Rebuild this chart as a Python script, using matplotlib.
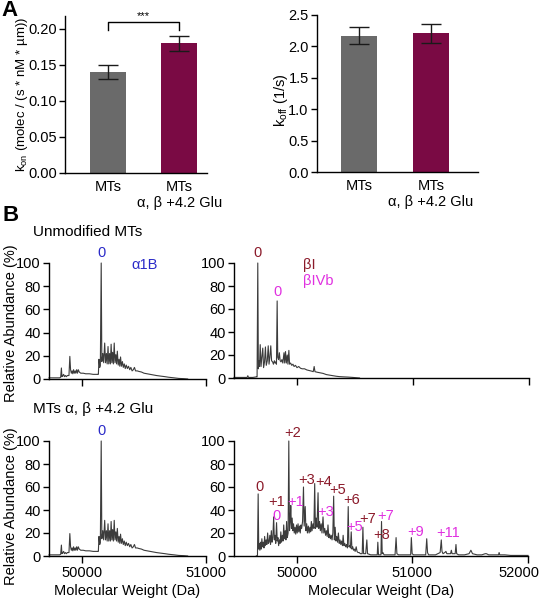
import matplotlib
matplotlib.use('Agg')
import matplotlib.pyplot as plt
from matplotlib.transforms import ScaledTranslation

plt.rcParams['font.family'] = ['Liberation Sans', 'DejaVu Sans']
plt.rcParams['mathtext.fontset'] = 'custom'
plt.rcParams['mathtext.rm'] = 'Liberation Sans'
plt.rcParams['mathtext.it'] = 'Liberation Sans:italic'
plt.rcParams['axes.linewidth'] = 1.0
plt.rcParams['font.size'] = 10.5

# ---- panel A data ----
groups = ['MTs', 'MTs\nα, β +4.2 Glu']
kon_mean = [0.14, 0.18]
kon_err = [0.01, 0.01]
koff_mean = [2.17, 2.21]
koff_err = [0.135, 0.15]
bar_colors = ['#6a6a6a', '#7a0a44']

# ---- panel B data (mass in Da, relative abundance in %) ----
# alpha1B spectrum, same in both rows
alpha_mass = [49734, 49760, 49790, 49820, 49828, 49834, 49838, 49845, 49852, 49858,
              49866, 49874, 49882, 49895, 49902, 49908, 49914, 49920, 49926, 49932,
              49938, 49945, 49950, 49957, 49963, 49970, 49978, 49990, 50010, 50030,
              50060, 50090, 50110, 50128, 50132, 50137, 50143, 50148, 50155, 50160,
              50168, 50175, 50183, 50190, 50197, 50203, 50210, 50216, 50223, 50229,
              50235, 50241, 50247, 50253, 50260, 50266, 50273, 50279, 50285, 50292,
              50299, 50305, 50311, 50318, 50326, 50333, 50341, 50349, 50357, 50366,
              50375, 50385, 50394, 50404, 50414, 50423, 50432, 50445, 50460, 50480,
              50500, 50525, 50550, 50575, 50600, 50634, 50670, 50700, 50743, 50780,
              50820, 50852]
alpha_abund = [1, 1, 1, 1, 1.5, 9.5, 2, 3, 4, 2,
               3, 2, 3, 3, 19.5, 8, 5, 7, 4.5, 8,
               5, 7, 5, 8, 5, 8, 6, 5, 5, 4.5,
               4.5, 4, 4, 4, 4, 17, 10, 12, 100, 15,
               22, 14, 31, 14, 22, 13, 28, 13, 22, 13,
               30, 14, 23, 13, 31, 14, 21, 13, 24, 12,
               17, 11, 19, 11, 15, 10, 13, 9, 12, 9,
               11, 8, 10, 7, 8, 10, 7, 7, 6.5, 6,
               5, 4.5, 4, 3.5, 3, 2.5, 2, 1.5, 1, 0.5,
               0.3, 0]

# beta spectrum, unmodified MTs
beta0_mass = [49457, 49500, 49560, 49570, 49576, 49582, 49620, 49650, 49656, 49662,
              49667, 49672, 49677, 49683, 49690, 49697, 49705, 49712, 49720, 49728,
              49735, 49744, 49752, 49759, 49766, 49774, 49781, 49790, 49797, 49805,
              49812, 49818, 49823, 49829, 49834, 49841, 49848, 49855, 49862, 49870,
              49878, 49888, 49894, 49901, 49908, 49916, 49922, 49930, 49936, 49945,
              49955, 49965, 49975, 49987, 50000, 50015, 50030, 50045, 50065, 50085,
              50105, 50125, 50140, 50148, 50155, 50175, 50200, 50225, 50252, 50280,
              50310, 50340, 50366, 50400, 50440, 50481, 50539]
beta0_abund = [0.5, 0.5, 0.5, 0.5, 2, 0.5, 0.5, 1, 1, 100,
               8, 15, 10, 29, 10, 18, 26, 9, 14, 27,
               11, 15, 28, 12, 18, 28, 15, 14, 12, 15,
               13, 14, 12, 67, 18, 16, 22, 15, 14, 16,
               13, 22, 13, 23, 13, 20, 12, 24, 12, 13,
               11, 12, 10, 11, 9, 10, 8.5, 8, 8, 7,
               6.5, 6, 5.5, 10, 5.5, 5, 4.5, 4, 3, 2.5,
               2, 1.5, 1.2, 1, 0.8, 0.5, 0]

# beta spectrum, MTs alpha, beta +4.2 Glu
beta_mod_mass = [49650, 49660, 49666, 49671, 49676, 49681, 49687, 49692, 49698, 49704,
                 49710, 49716, 49722, 49728, 49735, 49741, 49748, 49754, 49760, 49767,
                 49773, 49780, 49786, 49793, 49800, 49806, 49812, 49818, 49825, 49831,
                 49837, 49843, 49850, 49856, 49862, 49868, 49875, 49881, 49887, 49893,
                 49900, 49906, 49912, 49918, 49925, 49931, 49937, 49943, 49948, 49954,
                 49960, 49966, 49972, 49978, 49985, 49991, 49998, 50004, 50011, 50017,
                 50024, 50030, 50036, 50042, 50050, 50058, 50064, 50073, 50079, 50086,
                 50092, 50100, 50107, 50114, 50120, 50126, 50132, 50140, 50148, 50155,
                 50161, 50168, 50175, 50184, 50190, 50197, 50204, 50211, 50218, 50227,
                 50234, 50242, 50249, 50256, 50263, 50270, 50277, 50284, 50291, 50298,
                 50305, 50312, 50319, 50325, 50332, 50339, 50346, 50353, 50360, 50367,
                 50374, 50381, 50388, 50395, 50401, 50408, 50415, 50422, 50430, 50438,
                 50445, 50451, 50458, 50464, 50471, 50477, 50484, 50491, 50498, 50505,
                 50514, 50521, 50530, 50540, 50550, 50560, 50566, 50572, 50578, 50586,
                 50596, 50606, 50612, 50625, 50640, 50660, 50690, 50696, 50701, 50707,
                 50720, 50728, 50733, 50739, 50745, 50755, 50800, 50850, 50859, 50866,
                 50880, 50930, 50985, 50991, 50998, 51010, 51060, 51115, 51124, 51131,
                 51140, 51200, 51240, 51250, 51256, 51265, 51280, 51290, 51298, 51330,
                 51337, 51343, 51370, 51377, 51383, 51400, 51450, 51490, 51506, 51520,
                 51560, 51600, 51630, 51640, 51660, 51700, 51745, 51750, 51756, 51800,
                 51850, 51900, 51960, 52000]
beta_mod_abund = [0, 0.5, 54, 6, 11, 5, 12, 6, 15, 8,
                  12, 7, 17, 9, 14, 10, 20, 11, 12, 18,
                  10, 22, 12, 16, 34, 14, 18, 11, 29, 13,
                  16, 9, 14, 11, 21, 12, 18, 13, 27, 15,
                  22, 14, 30, 16, 20, 100, 22, 30, 44, 24,
                  33, 22, 28, 20, 25, 19, 27, 20, 28, 21,
                  26, 20, 27, 24, 30, 60, 26, 43, 22, 28,
                  20, 26, 20, 25, 21, 30, 22, 28, 24, 63,
                  24, 33, 25, 55, 24, 30, 22, 28, 20, 34,
                  20, 24, 18, 22, 17, 27, 16, 19, 15, 18,
                  14, 20, 52, 14, 25, 13, 17, 12, 20, 11,
                  14, 10, 13, 9, 18, 9, 11, 8, 10, 7,
                  43, 8, 9, 7, 21, 6, 8, 5, 6, 4,
                  8, 4, 3, 3, 2, 2, 2, 25, 2, 2,
                  2, 14, 2, 1.5, 1, 1, 1, 1, 12, 1,
                  1, 1, 30, 2, 3, 1, 1, 1, 16, 2,
                  1, 1, 1, 16, 2, 1, 1, 1, 15, 3,
                  1, 1, 3, 14, 4, 2, 3, 4, 2, 2,
                  5, 2, 2, 10, 2, 1, 1, 2, 5, 2,
                  1, 1, 2, 2, 1, 1, 1, 3, 1, 1,
                  0.5, 0.5, 0.5, 0.5]

BLUE = '#2a2ac8'
DRED = '#8b1a2a'
MAG = '#e030e0'

# peak labels: text, mass, height of label centre, colour
ul_labels = [('0', 50155, 109, BLUE)]
ur_labels = [('0', 49662, 109, DRED), ('0', 49829, 75, MAG)]
ll_labels = [('0', 50155, 109, BLUE)]
lr_labels = [('0', 49678, 60, DRED), ('+1', 49830, 47, DRED), ('0', 49828, 35, MAG),
             ('+1', 49989, 47, MAG), ('+2', 49968, 107, DRED), ('+3', 50088, 66, DRED),
             ('+4', 50228, 64, DRED), ('+5', 50356, 57, DRED), ('+6', 50477, 49, DRED),
             ('+3', 50253, 38, MAG), ('+5', 50500, 25, MAG), ('+7', 50612, 32, DRED),
             ('+8', 50733, 18, DRED), ('+7', 50765, 35, MAG), ('+9', 51026, 21, MAG),
             ('+11', 51307, 20, MAG)]

W, H = 542, 600
fig = plt.figure(figsize=(W / 100, H / 100), dpi=100)


def rect(l, r, t, b):
    return [l / W, 1 - b / H, (r - l) / W, (b - t) / H]


def style(ax):
    ax.spines['top'].set_visible(False)
    ax.spines['right'].set_visible(False)
    ax.tick_params(direction='out', length=4, width=1, color='black', pad=2)


# ---- panel A ----
x = [0, 1]
axL = fig.add_axes(rect(65, 207, 16, 173))
axL.bar(x, kon_mean, width=0.5, color=bar_colors, yerr=kon_err, capsize=7,
        error_kw=dict(lw=1, capthick=1, ecolor='#1a1a1a'))
axL.set_xlim(-0.6, 1.39)
axL.set_ylim(0, 0.218)
axL.set_yticks([0, 0.05, 0.10, 0.15, 0.20])
axL.set_yticklabels(['0.00', '0.05', '0.10', '0.15', '0.20'])
axL.set_xticks(x)
axL.set_xticklabels(groups)
style(axL)
axL.tick_params(axis='x', length=0, pad=5)
axL.set_ylabel(r'k$_{\rm on}$ (molec / (s * nM * µm))', fontsize=9.5)
axL.yaxis.set_label_coords(-0.245, 0.5)
# significance bracket
top = max(m + e for m, e in zip(kon_mean, kon_err)) + 0.02
axL.plot([0, 0, 1, 1], [top - 0.011, top, top, top - 0.011], color='black', lw=1, clip_on=False)
axL.text(0.5, top + 0.001, '***', ha='center', va='bottom', fontsize=8)

axR = fig.add_axes(rect(317, 478, 15, 172))
axR.bar(x, koff_mean, width=0.5, color=bar_colors, yerr=koff_err, capsize=7,
        error_kw=dict(lw=1, capthick=1, ecolor='#1a1a1a'))
axR.set_xlim(-0.58, 1.65)
axR.set_ylim(0, 2.5)
axR.set_yticks([0, 0.5, 1.0, 1.5, 2.0, 2.5])
axR.set_yticklabels(['0.0', '0.5', '1.0', '1.5', '2.0', '2.5'])
axR.set_xticks(x)
axR.set_xticklabels(groups)
style(axR)
axR.tick_params(axis='x', length=0, pad=5)
axR.set_ylabel(r'k$_{\rm off}$ (1/s)')
axR.yaxis.set_label_coords(-0.17, 0.46)


# ---- panel B ----
def spectrum(box, mass, abund, xlim, ticks, labels, show_xlabels):
    ax = fig.add_axes(rect(*box))
    ax.plot(mass, abund, color='#3c3c3c', lw=0.8, clip_on=False)
    ax.set_xlim(xlim)
    ax.set_ylim(0, 100)
    ax.set_yticks([0, 20, 40, 60, 80, 100])
    ax.set_xticks(ticks)
    if show_xlabels:
        ax.set_xticklabels([str(t) for t in ticks])
        ax.set_xlabel('Molecular Weight (Da)', labelpad=3)
    else:
        ax.set_xticklabels([])
    style(ax)
    ax.tick_params(axis='x', length=5)
    for txt, m, y, c in labels:
        ax.text(m, y, txt, color=c, ha='center', va='center', clip_on=False)
    return ax


ax1 = spectrum((49, 206, 263, 379), alpha_mass, alpha_abund, (49734, 51000),
               [50000, 51000], ul_labels, False)
ax1.text(50400, 98, 'α1B', color=BLUE, ha='left', va='center')
ax2 = spectrum((234, 529, 263, 378), beta0_mass, beta0_abund, (49457, 52000),
               [50000, 51000, 52000], ur_labels, False)
ax2.text(50050, 98, 'βI', color=DRED, ha='left', va='center')
ax2.text(50050, 84, 'βIVb', color=MAG, ha='left', va='center')
ax3 = spectrum((49, 206, 441, 556), alpha_mass, alpha_abund, (49734, 51000),
               [50000, 51000], ll_labels, True)
ax4 = spectrum((234, 528, 441, 556), beta_mod_mass, beta_mod_abund, (49457, 52000),
               [50000, 51000, 52000], lr_labels, True)
# last tick label sits a little inward so it stays on the canvas
last = ax4.get_xticklabels()[-1]
last.set_transform(last.get_transform() + ScaledTranslation(-0.09, 0, fig.dpi_scale_trans))

fig.text(11 / W, 1 - 323 / H, 'Relative Abundance (%)', rotation=90, ha='center', va='center', fontsize=10.5)
fig.text(11 / W, 1 - 506 / H, 'Relative Abundance (%)', rotation=90, ha='center', va='center', fontsize=10.5)

fig.text(1 / W, 1 - 11 / H, 'A', fontsize=16, fontweight='bold', ha='left', va='center')
fig.text(3 / W, 1 - 215 / H, 'B', fontsize=16, fontweight='bold', ha='left', va='center')
fig.text(33 / W, 1 - 232 / H, 'Unmodified MTs', fontsize=11, ha='left', va='center')
fig.text(33 / W, 1 - 409 / H, 'MTs α, β +4.2 Glu', fontsize=11, ha='left', va='center')

fig.savefig('out.png', dpi=100)
